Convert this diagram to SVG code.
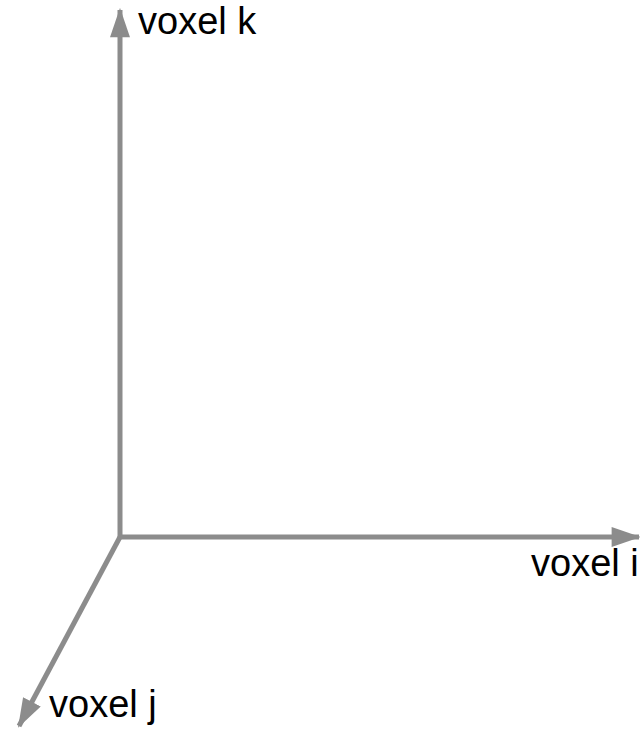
<svg xmlns="http://www.w3.org/2000/svg" width="640" height="729" viewBox="0 0 640 729">
<style>
.axis{stroke:#8c8c8c;stroke-width:5;fill:none}
.lbl{font-family:"Liberation Sans",Arial,sans-serif;font-size:38px;fill:#000}
</style>
<defs>
<marker id="ah" markerUnits="userSpaceOnUse" markerWidth="30" markerHeight="20" viewBox="0 0 28 19" refX="26" refY="9.5" orient="auto">
<path d="M0,0 L28,9.5 L0,19 Z" fill="#8c8c8c"/>
</marker>
</defs>
<rect width="640" height="729" fill="#fff"/>
<g id="connectors">
<line class="axis" x1="120" y1="539" x2="120" y2="10" marker-end="url(#ah)"/>
<line class="axis" x1="118" y1="537" x2="639" y2="537" marker-end="url(#ah)"/>
<path class="axis" d="M120,537 L19,726" marker-end="url(#ah)"/>
</g>
<g id="label-k"><text class="lbl" x="138" y="34">voxel k</text></g>
<g id="label-i"><text class="lbl" x="531" y="576">voxel i</text></g>
<g id="label-j"><text class="lbl" x="49" y="717">voxel j</text></g>
</svg>
